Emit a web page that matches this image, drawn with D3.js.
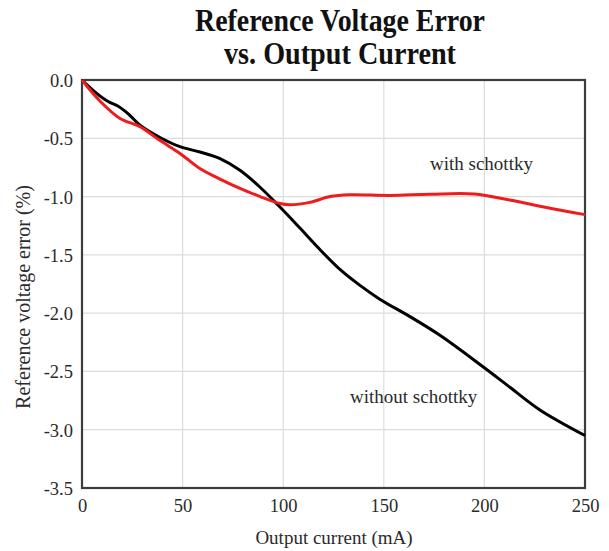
<!DOCTYPE html>
<html><head><meta charset="utf-8">
<script src="https://cdn.jsdelivr.net/npm/d3@7"></script>
<style>body{margin:0;background:#fff;} svg{display:block;}</style>
</head><body>
<script>
const xTicks = [0, 50, 100, 150, 200, 250];
const yTicks = [0, -0.5, -1.0, -1.5, -2.0, -2.5, -3.0, -3.5];
const withoutCurrent = [0, 7, 13, 18, 23, 29, 39, 48.7, 58.6, 68.6, 78.5, 88.5, 98.4, 108.3, 118, 128.2, 138, 148, 163, 177.9, 199.3, 213, 227.6, 250];
const withoutError   = [0, -0.11, -0.185, -0.225, -0.29, -0.39, -0.495, -0.572, -0.618, -0.675, -0.775, -0.92, -1.09, -1.27, -1.45, -1.625, -1.76, -1.88, -2.03, -2.19, -2.46, -2.64, -2.83, -3.05];
const withCurrent = [0, 8.9, 18.9, 28.8, 38.8, 48.7, 58.6, 68.6, 78.5, 88.5, 98.4, 103.4, 113.3, 123.3, 133, 153, 173, 195, 212.7, 232.6, 250];
const withError   = [0, -0.18, -0.33, -0.40, -0.52, -0.63, -0.76, -0.85, -0.93, -1.00, -1.06, -1.07, -1.05, -1.00, -0.985, -0.99, -0.98, -0.978, -1.03, -1.10, -1.155];
const titleLines = ["Reference Voltage Error", "vs. Output Current"];

const W = 609, H = 551;
const m = {left: 82, right: 24, top: 80, bottom: 63};
const svg = d3.select("body").append("svg").attr("width", W).attr("height", H);
const x = d3.scaleLinear().domain([0, 250]).range([m.left, W - m.right]);
const y = d3.scaleLinear().domain([-3.5, 0]).range([H - m.bottom, m.top]);
const font = "'Liberation Serif','Times New Roman',serif";
const textCol = "#2a2a2a";

// grid
svg.append("g").selectAll("line").data(xTicks.slice(1, -1)).join("line")
  .attr("x1", d => x(d)).attr("x2", d => x(d)).attr("y1", y(0)).attr("y2", y(-3.5))
  .attr("stroke", "#dcdcdc").attr("stroke-width", 1.2);
svg.append("g").selectAll("line").data(yTicks.slice(1, -1)).join("line")
  .attr("y1", d => y(d)).attr("y2", d => y(d)).attr("x1", x(0)).attr("x2", x(250))
  .attr("stroke", "#dcdcdc").attr("stroke-width", 1.2);

// axes
const xAxis = svg.append("g").attr("transform", `translate(0,${y(-3.5)})`)
  .call(d3.axisBottom(x).tickValues(xTicks).tickSize(0).tickPadding(11).tickFormat(d => String(d)));
const yAxis = svg.append("g").attr("transform", `translate(${x(0)},0)`)
  .call(d3.axisLeft(y).tickValues(yTicks).tickSize(0).tickPadding(9).tickFormat(d => d.toFixed(1)));
[xAxis, yAxis].forEach(a => {
  a.select(".domain").remove();
  a.selectAll("text").attr("font-family", font).attr("font-size", 18.5).attr("fill", textCol);
});
yAxis.selectAll("text").attr("dy", "0.35em");

// frame
svg.append("rect").attr("x", x(0)).attr("y", y(0)).attr("width", x(250) - x(0)).attr("height", y(-3.5) - y(0))
  .attr("fill", "none").attr("stroke", "#3a3d3e").attr("stroke-width", 2.2);

// lines
const line = d3.line().curve(d3.curveCatmullRom.alpha(0.5));
const withoutPts = withoutCurrent.map((c, i) => [x(c), y(withoutError[i])]);
const withPts = withCurrent.map((c, i) => [x(c), y(withError[i])]);
svg.append("path").attr("d", line(withoutPts)).attr("fill", "none").attr("stroke", "#000").attr("stroke-width", 3);
svg.append("path").attr("d", line(withPts)).attr("fill", "none").attr("stroke", "#ee1c1c").attr("stroke-width", 3);

// annotations
svg.append("text").attr("x", 430).attr("y", 170).text("with schottky")
  .attr("font-family", font).attr("font-size", 19).attr("fill", textCol);
svg.append("text").attr("x", 350).attr("y", 403).text("without schottky")
  .attr("font-family", font).attr("font-size", 19).attr("fill", textCol);

// axis titles
svg.append("text").attr("x", 334).attr("y", 544).attr("text-anchor", "middle")
  .text("Output current (mA)").attr("font-family", font).attr("font-size", 19).attr("fill", textCol);
svg.append("text").attr("transform", `translate(30,297) rotate(-90)`).attr("text-anchor", "middle")
  .text("Reference voltage error (%)").attr("font-family", font).attr("font-size", 20).attr("fill", textCol);

// title
const tLens = [290, 232];
svg.append("g").selectAll("text").data(titleLines).join("text")
  .attr("x", 340).attr("y", (d, i) => 31 + i * 33).attr("text-anchor", "middle")
  .attr("font-family", font).attr("font-weight", "bold").attr("font-size", 31).attr("fill", "#111")
  .attr("textLength", (d, i) => tLens[i]).attr("lengthAdjust", "spacingAndGlyphs")
  .text(d => d);
</script>
</body></html>
